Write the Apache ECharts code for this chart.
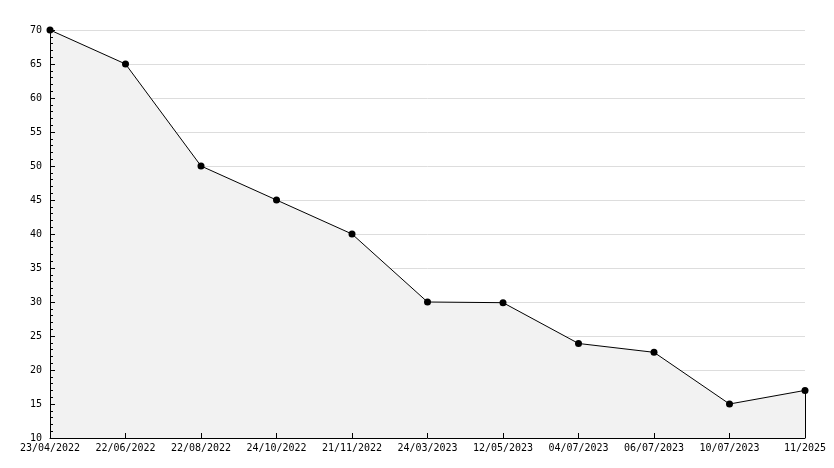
<!DOCTYPE html>
<html><head><meta charset="utf-8">
<script src="https://cdn.jsdelivr.net/npm/echarts@6/dist/echarts.min.js"></script>
<style>html,body{margin:0;padding:0;background:#fff}#c{width:834px;height:468px}</style>
</head><body><div id="c"></div>
<script>
const categories = ['23/04/2022','22/06/2022','22/08/2022','24/10/2022','21/11/2022','24/03/2023','12/05/2023','04/07/2023','06/07/2023','10/07/2023','11/2025'];
const values = [70, 65, 50, 45, 40, 30, 29.9, 23.9, 22.6, 15, 17];
const yMin = 10, yMax = 70, yStep = 5;

const chart = echarts.init(document.getElementById('c'), null, {renderer:'canvas'});
const font = {fontFamily:'DejaVu Sans Mono', fontSize:10, color:'#000'};
const last = categories.length - 1;
chart.setOption({
  animation:false,
  backgroundColor:'#fff',
  grid:{left:50, right:29, top:30, bottom:30, containLabel:false},
  xAxis:{
    type:'category', data:categories, boundaryGap:false, z:5,
    axisLine:{lineStyle:{color:'#000', width:1}},
    axisTick:{inside:true, length:5, alignWithLabel:true, lineStyle:{color:'#000'}},
    axisLabel:Object.assign({margin:5, interval:0, showMinLabel:true, showMaxLabel:true}, font),
    splitLine:{show:false}
  },
  yAxis:[{
    type:'value', min:yMin, max:yMax, interval:yStep, z:0,
    axisLine:{show:false}, axisTick:{show:false}, axisLabel:{show:false},
    splitLine:{show:true, lineStyle:{color:'#dddddd', width:1}}
  },{
    type:'value', min:yMin, max:yMax, interval:yStep, z:5, position:'left',
    axisLine:{show:true, onZero:false, lineStyle:{color:'#000', width:1}},
    axisTick:{show:true, inside:true, length:5, lineStyle:{color:'#000'}},
    minorTick:{show:true, splitNumber:5, length:3, lineStyle:{color:'#000'}},
    axisLabel:Object.assign({margin:8}, font),
    splitLine:{show:false}
  }],
  series:[{
    type:'line', data:values, yAxisIndex:0,
    symbol:'circle', symbolSize:7,
    itemStyle:{color:'#000'},
    lineStyle:{color:'#000', width:1},
    areaStyle:{color:'#f2f2f2', opacity:1},
    markLine:{
      silent:true, symbol:'none', label:{show:false},
      lineStyle:{color:'#000', width:1, type:'solid'},
      data:[[{coord:[last, yMin]},{coord:[last, values[last]]}]]
    }
  }]
});
</script></body></html>
